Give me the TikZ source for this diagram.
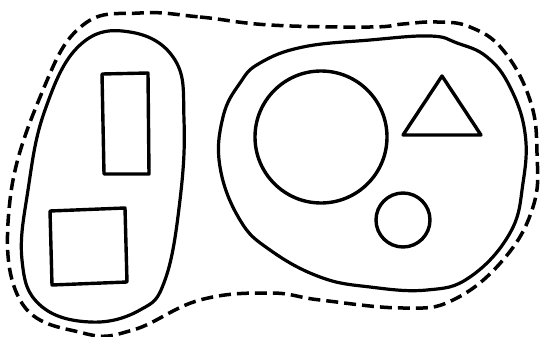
\documentclass[tikz,border=0pt]{standalone}
\usepackage{tikz}

\begin{document}
\begin{tikzpicture}[
            x = 1pt,
            y = -1pt,
            line join = round,
            blob/.style = {
                draw,
                line width = 3.2pt,
                smooth cycle,
                tension = 0.7
            },
            outline/.style = {
                blob,
                line width = 3.5pt,
                dash pattern = on 12pt off 6pt
            },
            figure/.style = {
                draw,
                line width = 3.4pt
            }
        ]
            \useasboundingbox (0,0) rectangle (541,337);

            % outer dashed boundary
            \draw[outline] plot coordinates {
                (140,13) (200,17) (270,25) (370,27) (403,24) (437,22)
                (470,27) (503,50) (530,100) (537,153) (533,207)
                (503,260) (453,300) (403,308) (320,300) (270,293)
                (200,300) (133,330) (83,333) (20,300) (10,200)
                (43,90) (83,25)
            };

            % left group
            \draw[blob] plot coordinates {
                (130,32) (175,60) (184,120) (180,200) (165,280)
                (140,310) (90,322) (40,305) (22,260) (28,190)
                (45,110) (80,45)
            };
            \draw[figure] (102,74) -- (148,73) -- (149,174) -- (104,174) -- cycle;
            \draw[figure] (50,211) -- (125,208) -- (127,282) -- (52,285) -- cycle;

            % right group
            \draw[blob] plot coordinates {
                (260,63) (303,47) (370,40) (430,36) (457,43)
                (487,57) (510,87) (525,133) (523,183) (510,233)
                (470,277) (427,290) (370,287) (320,277) (270,250)
                (240,220) (220,167) (223,117) (240,83)
            };
            \draw[figure] (321,137) circle (66);
            \draw[figure] (403,220) circle (27);
            \draw[figure] (442,76) -- (481,135) -- (403,135) -- cycle;
        \end{tikzpicture}
\end{document}
